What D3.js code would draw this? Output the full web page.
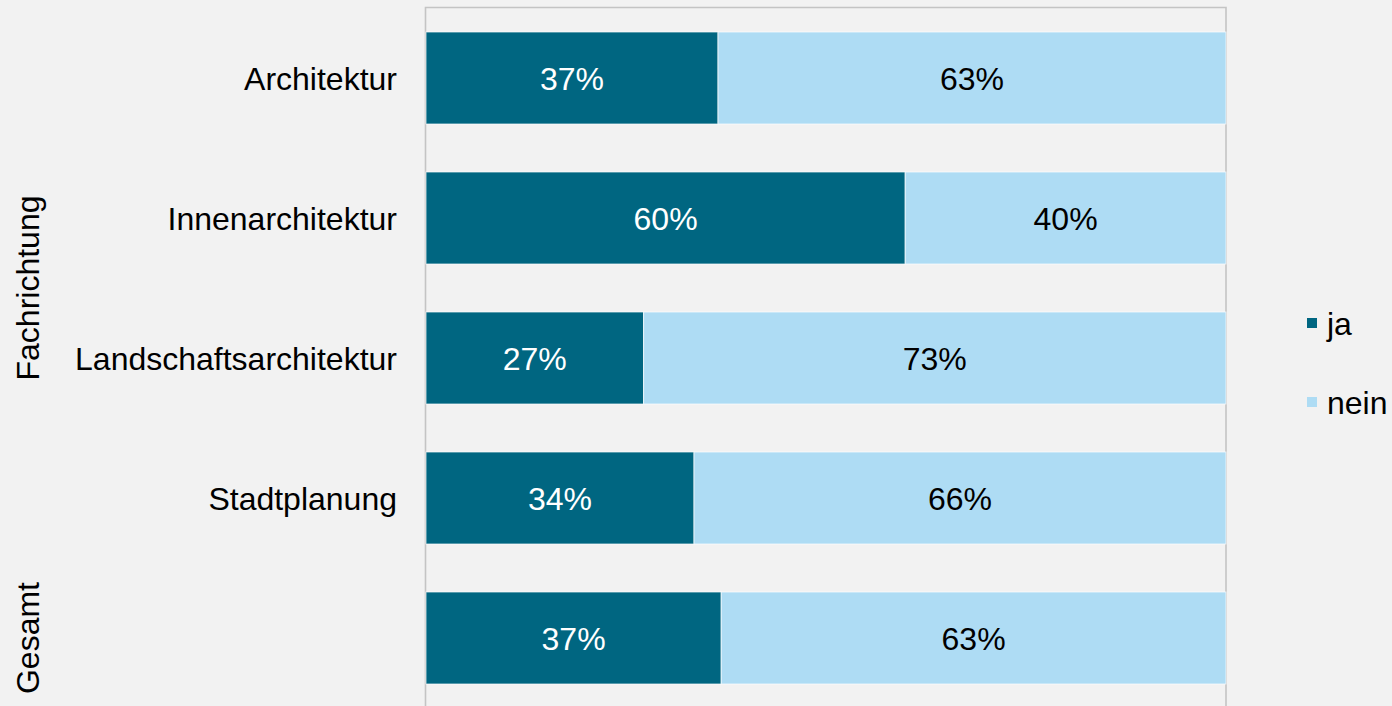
<!DOCTYPE html>
<html><head><meta charset="utf-8">
<script src="https://cdn.jsdelivr.net/npm/d3@7"></script>
<style>
html,body{margin:0;padding:0;background:#f2f2f2;}
svg{display:block;font-family:Arial,"Liberation Sans",sans-serif;}
</style></head>
<body>
<svg id="chart" width="1392" height="706"></svg>
<script>
const categories = ["Architektur","Innenarchitektur","Landschaftsarchitektur","Stadtplanung","Gesamt"];
const categoryLabels = ["Architektur","Innenarchitektur","Landschaftsarchitektur","Stadtplanung",""];
const jaValues = [36.5, 59.9, 27.2, 33.5, 36.9];
const neinValues = [63.5, 40.1, 72.8, 66.5, 63.1];
const jaLabels = ["37%","60%","27%","34%","37%"];
const neinLabels = ["63%","40%","73%","66%","63%"];
const seriesNames = ["ja","nein"];
const seriesColors = ["#006681","#aedcf4"];
const groups = [{name:"Fachrichtung", from:0, to:3},{name:"Gesamt", from:4, to:4}];

const svg = d3.select("#chart");
const pLeft = 426, pRight = 1226, pTop = 8, pBottom = 708;
const x = d3.scaleLinear().domain([0,100]).range([pLeft,pRight]);
const p = 48/140;
const y = d3.scaleBand().domain(categories).range([pTop,pBottom]).paddingInner(p).paddingOuter(p/2);

// frame / gridlines
svg.append("path")
  .attr("d", `M${pLeft-0.5},${pBottom} V${pTop-0.5} H${pRight} V${pBottom}`)
  .attr("fill","none").attr("stroke","#c4c4c4").attr("stroke-width",1.6);

const rows = categories.map((c,i)=>({c, ja:jaValues[i], nein:neinValues[i], jl:jaLabels[i], nl:neinLabels[i], lab:categoryLabels[i]}));

// ja bars
svg.selectAll("rect.ja").data(rows).join("rect").attr("class","ja")
  .attr("x", x(0)).attr("y", d=>y(d.c))
  .attr("width", d=>x(d.ja)-x(0)).attr("height", y.bandwidth())
  .attr("fill", seriesColors[0]).attr("stroke","#ffffff").attr("stroke-width",1).attr("stroke-opacity",0.7);
// nein bars
svg.selectAll("rect.nein").data(rows).join("rect").attr("class","nein")
  .attr("x", d=>x(d.ja)).attr("y", d=>y(d.c))
  .attr("width", d=>x(d.ja+d.nein)-x(d.ja)).attr("height", y.bandwidth())
  .attr("fill", seriesColors[1]).attr("stroke","#ffffff").attr("stroke-width",1).attr("stroke-opacity",0.7);

// labels
svg.selectAll("text.jl").data(rows).join("text").attr("class","jl")
  .attr("x", d=>(x(0)+x(d.ja))/2).attr("y", d=>y(d.c)+y.bandwidth()/2+11.5)
  .attr("text-anchor","middle").attr("font-size",32).attr("fill","#ffffff").text(d=>d.jl);
svg.selectAll("text.nl").data(rows).join("text").attr("class","nl")
  .attr("x", d=>(x(d.ja)+x(d.ja+d.nein))/2).attr("y", d=>y(d.c)+y.bandwidth()/2+11.5)
  .attr("text-anchor","middle").attr("font-size",32).attr("fill","#000000").text(d=>d.nl);

// category labels
svg.selectAll("text.cat").data(rows).join("text").attr("class","cat")
  .attr("x", 397).attr("y", d=>y(d.c)+y.bandwidth()/2+11.5)
  .attr("text-anchor","end").attr("font-size",32).attr("fill","#000").text(d=>d.lab);

// group titles
groups.forEach(g=>{
  const y0 = y(categories[g.from]) - y.step()*p/2;
  const y1 = y(categories[g.to]) + y.bandwidth() + y.step()*p/2;
  const cy = (y0+y1)/2;
  svg.append("text").attr("transform",`translate(39,${cy}) rotate(-90)`)
    .attr("text-anchor","middle").attr("font-size",32).attr("fill","#000").text(g.name);
});

// legend
const leg = svg.append("g");
seriesNames.forEach((s,i)=>{
  const ly = 318 + i*79;
  leg.append("rect").attr("x",1307).attr("y",ly).attr("width",10).attr("height",10).attr("fill",seriesColors[i]);
  leg.append("text").attr("x",1327).attr("y",ly+17).attr("font-size",32).attr("fill","#000").text(s);
});
</script>
</body></html>
